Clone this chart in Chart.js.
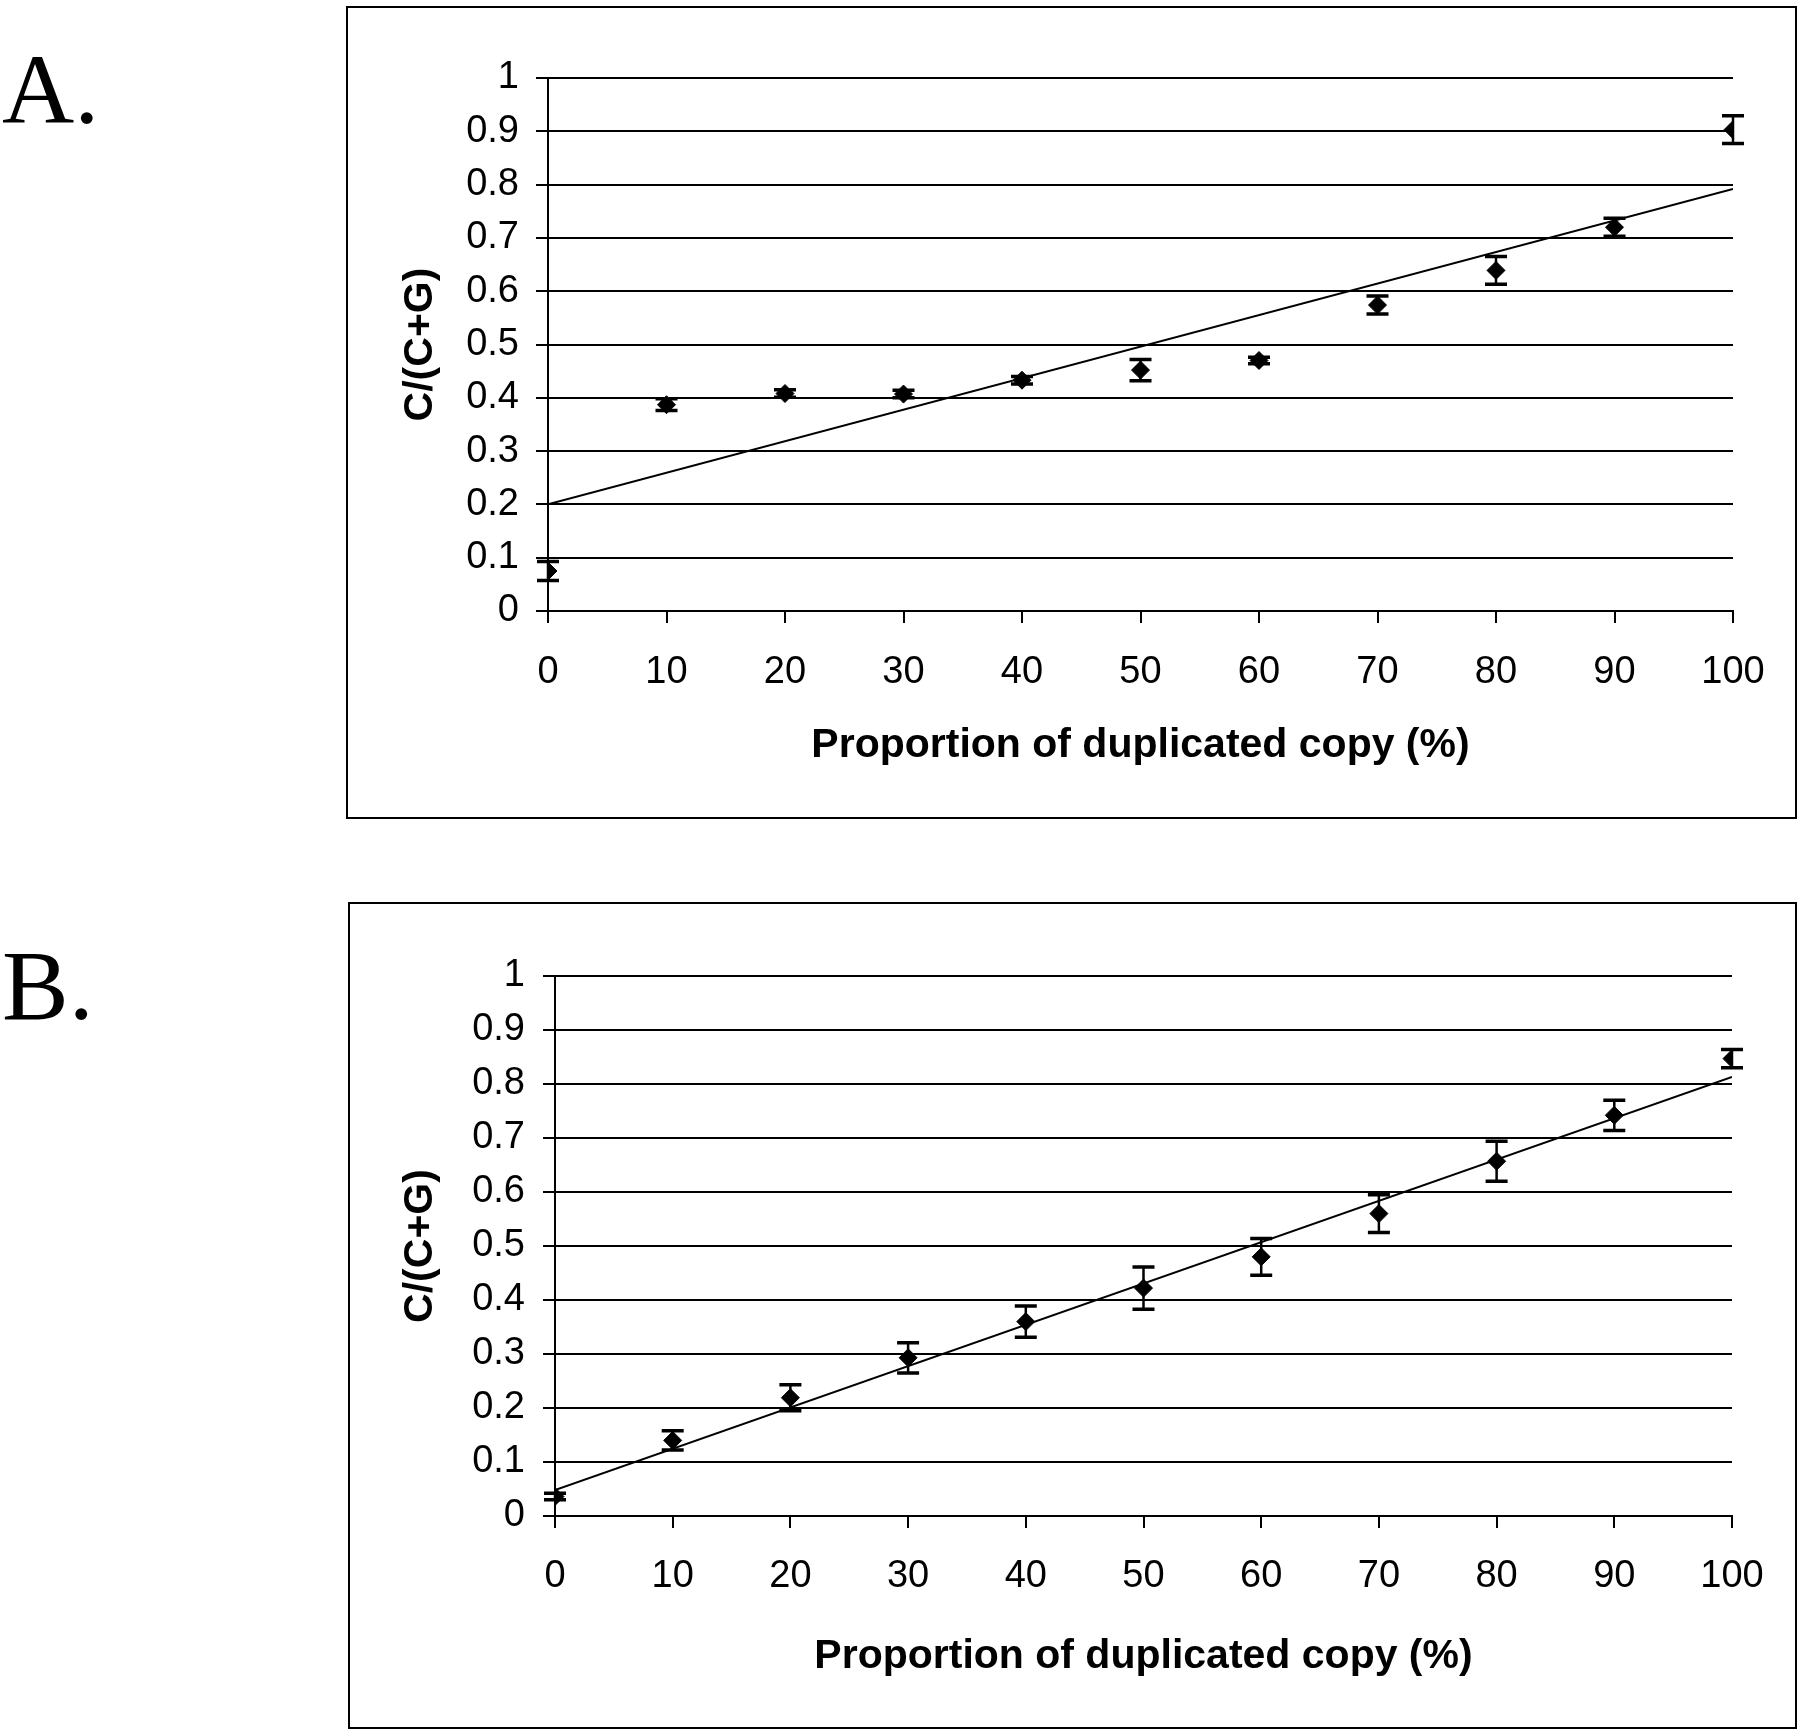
<!DOCTYPE html>
<html>
<head>
<meta charset="utf-8">
<script src="https://cdn.jsdelivr.net/npm/chart.js@4.4.1/dist/chart.umd.min.js"></script>
<style>
  body { margin: 0; background: #fff; width: 1800px; height: 1730px; position: relative; overflow: hidden; }
  .panel { position: absolute; border: 2px solid #000; box-sizing: border-box; }
  .panel canvas { position: absolute; left: 0; top: 0; }
  .tag { position: absolute; font-family: 'Liberation Serif', 'Times New Roman', serif; font-size: 100px; line-height: 1; color: #000; }
</style>
</head>
<body>
<div class="tag" style="left:2px; top:40px;">A.</div>
<div class="panel" style="left:346px; top:6px; width:1451px; height:813px;">
  <canvas id="chartA" width="1447" height="809"></canvas>
</div>
<div class="tag" style="left:2px; top:936px;">B.</div>
<div class="panel" style="left:348px; top:902px; width:1449px; height:827px;">
  <canvas id="chartB" width="1445" height="823"></canvas>
</div>
<script>
// data
const xValues = [0, 10, 20, 30, 40, 50, 60, 70, 80, 90, 100];
const xTickLabels = ['0', '10', '20', '30', '40', '50', '60', '70', '80', '90', '100'];
const yTickLabels = ['0', '0.1', '0.2', '0.3', '0.4', '0.5', '0.6', '0.7', '0.8', '0.9', '1'];

const aMeans = [0.075, 0.387, 0.408, 0.407, 0.433, 0.452, 0.470, 0.574, 0.639, 0.720, 0.903];
const aErrors = [0.018, 0.011, 0.007, 0.007, 0.007, 0.020, 0.006, 0.017, 0.026, 0.017, 0.026];
const bMeans = [0.036, 0.140, 0.219, 0.293, 0.360, 0.422, 0.480, 0.560, 0.657, 0.742, 0.847];
const bErrors = [0.006, 0.018, 0.024, 0.028, 0.029, 0.039, 0.034, 0.035, 0.037, 0.028, 0.017];

// trend lines (end points)
const trendX = [0, 100];
const aTrend = [0.200, 0.792];
const bTrend = [0.048, 0.813];

const xTitle = 'Proportion of duplicated copy (%)';
const yTitle = 'C/(C+G)';

const FONT = "'Liberation Sans', Arial, Helvetica, sans-serif";

// error bars drawn with the chart's own scales
const errorBars = {
  id: 'errorBars',
  afterDatasetsDraw(chart) {
    const ds = chart.data.datasets[0];
    const xs = chart.scales.x, ys = chart.scales.y;
    const ctx = chart.ctx;
    ctx.save();
    ctx.strokeStyle = '#000';
    ds.data.forEach((p, i) => {
      const e = ds.errors[i];
      const px = xs.getPixelForValue(p.x);
      const top = ys.getPixelForValue(p.y + e);
      const bot = ys.getPixelForValue(p.y - e);
      ctx.lineWidth = 2.5;
      ctx.beginPath();
      ctx.moveTo(px, top); ctx.lineTo(px, bot);
      ctx.stroke();
      ctx.lineWidth = 3.5;
      ctx.beginPath();
      ctx.moveTo(px - 11, top); ctx.lineTo(px + 11, top);
      ctx.moveTo(px - 11, bot); ctx.lineTo(px + 11, bot);
      ctx.stroke();
    });
    ctx.restore();
  }
};

function makeChart(id, means, errors, trend, lay) {
  const points = xValues.map((x, i) => ({ x: x, y: means[i] }));
  const line = trendX.map((x, i) => ({ x: x, y: trend[i] }));

  return new Chart(document.getElementById(id), {
    type: 'scatter',
    data: {
      datasets: [{
        data: points,
        errors: errors,
        pointStyle: 'rectRot',
        pointRadius: 9,
        backgroundColor: '#000',
        borderColor: '#000',
        borderWidth: 1
      }, {
        data: line,
        showLine: true,
        pointRadius: 0,
        borderColor: '#000',
        borderWidth: 2
      }]
    },
    options: {
      responsive: false,
      animation: false,
      layout: { padding: { top: lay.top, right: lay.right, left: 0, bottom: 0 } },
      plugins: { legend: { display: false }, tooltip: { enabled: false } },
      scales: {
        x: {
          type: 'linear', min: 0, max: 100,
          afterFit: s => { s.height = lay.xh; },
          ticks: {
            stepSize: 10, color: '#000', padding: lay.xpad,
            font: { family: FONT, size: 38 },
            callback: (v, i) => xTickLabels[i]
          },
          grid: { drawOnChartArea: false, drawTicks: true, tickLength: 12, color: '#000', lineWidth: 2 },
          border: { display: true, color: '#000', width: 2 },
          title: {
            display: true, text: xTitle, color: '#000',
            font: { family: FONT, size: 41, weight: 'bold' },
            padding: { top: 0, bottom: lay.xtp }
          }
        },
        y: {
          type: 'linear', min: 0, max: 1,
          afterFit: s => { s.width = lay.yw; },
          ticks: {
            stepSize: 0.1, color: '#000', padding: lay.ypad,
            font: { family: FONT, size: 38 },
            callback: (v, i) => yTickLabels[i]
          },
          grid: { color: '#000', lineWidth: 2, tickLength: 12 },
          border: { display: true, color: '#000', width: 2 },
          title: {
            display: true, text: yTitle, color: '#000',
            font: { family: FONT, size: 41, weight: 'bold' },
            padding: { top: lay.ytp, bottom: 0 }
          }
        }
      }
    },
    plugins: [errorBars]
  });
}

makeChart('chartA', aMeans, aErrors, aTrend,
  { top: 70, right: 62, xh: 206, yw: 200, xpad: 27, ypad: 17, xtp: 47, ytp: 48 });
makeChart('chartB', bMeans, bErrors, bTrend,
  { top: 72, right: 63, xh: 211, yw: 205, xpad: 26, ypad: 18, xtp: 46, ytp: 46 });
</script>
</body>
</html>
